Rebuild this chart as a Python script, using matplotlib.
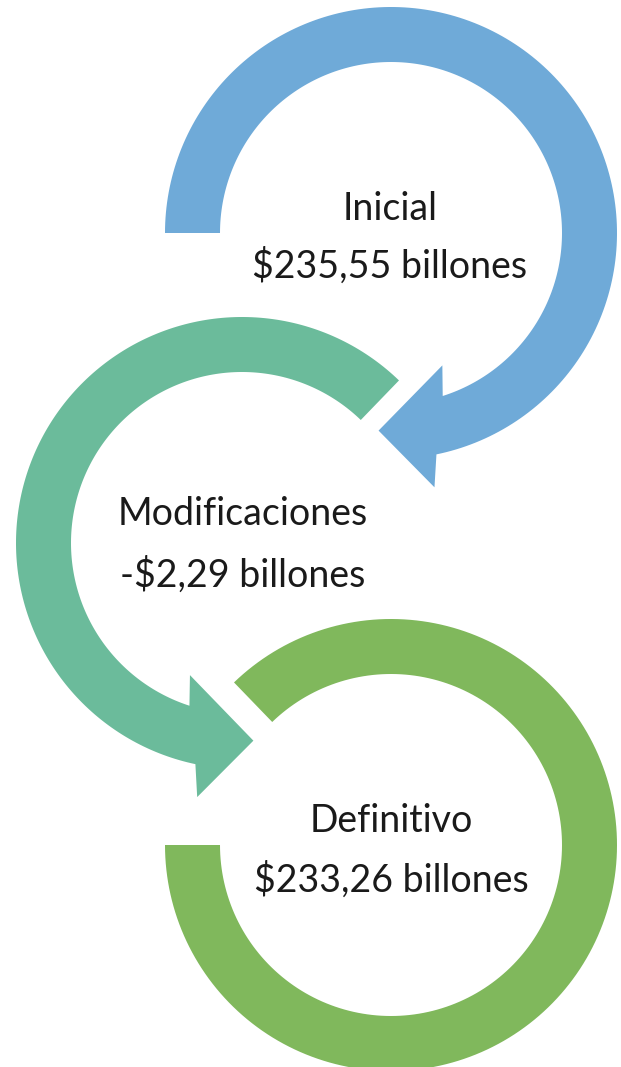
import matplotlib
matplotlib.use("Agg")
import matplotlib.pyplot as plt
from matplotlib.patches import Polygon
import numpy as np

# stages of the budget
stages = ["Inicial", "Modificaciones", "Definitivo"]
amounts = ["$235,55 billones", "-$2,29 billones", "$233,26 billones"]
colors = ["#6FAAD8", "#6BBB9B", "#80B85C"]

# ring geometry (pixels, y down) and arc span in degrees (math convention)
centers = [(391, 233), (242, 543), (391, 845)]
arc_start = [180, 46, 134]
arc_end = [-78.4, 258.1, -180]
has_head = [True, True, False]

R_OUT = 226
R_IN = 171

W, H = 621, 1067
fig = plt.figure(figsize=(W / 100, H / 100), dpi=100)
ax = fig.add_axes([0, 0, 1, 1])
ax.set_xlim(0, W)
ax.set_ylim(H, 0)
ax.set_aspect("equal")
ax.axis("off")


def pt(c, r, a):
    a = np.deg2rad(a)
    return (c[0] + r * np.cos(a), c[1] - r * np.sin(a))


def ring_arrow(c, a0, a1, head, col):
    t = np.linspace(a0, a1, 200)
    pts = [pt(c, R_OUT, a) for a in t]
    d = np.sign(a1 - a0)
    if head:
        # arrow head, angles relative to the end of the outer edge
        pts.append(pt(c, 258, a1 + d * 1.9))
        pts.append(pt(c, 198, a1 + d * 15.2))
        pts.append(pt(c, 142, a1 - d * 9.6))
        a_in = a1 - d * 6.0
    else:
        a_in = a1
    t2 = np.linspace(a_in, a0, 200)
    pts += [pt(c, R_IN, a) for a in t2]
    ax.add_patch(Polygon(pts, closed=True, facecolor=col, edgecolor="none"))


for i in range(3):
    ring_arrow(centers[i], arc_start[i], arc_end[i], has_head[i], colors[i])

title_base = [220, 525, 832]
value_base = [278, 587, 892]
text_x = [390, 243, 391]
for i in range(3):
    ax.text(text_x[i], title_base[i], stages[i], ha="center", va="baseline",
            fontsize=27, family="Lato", color="#1a1a1a")
    ax.text(text_x[i], value_base[i], amounts[i], ha="center", va="baseline",
            fontsize=27, family="Lato", color="#1a1a1a")

fig.savefig("out.png", dpi=100, facecolor="white")
